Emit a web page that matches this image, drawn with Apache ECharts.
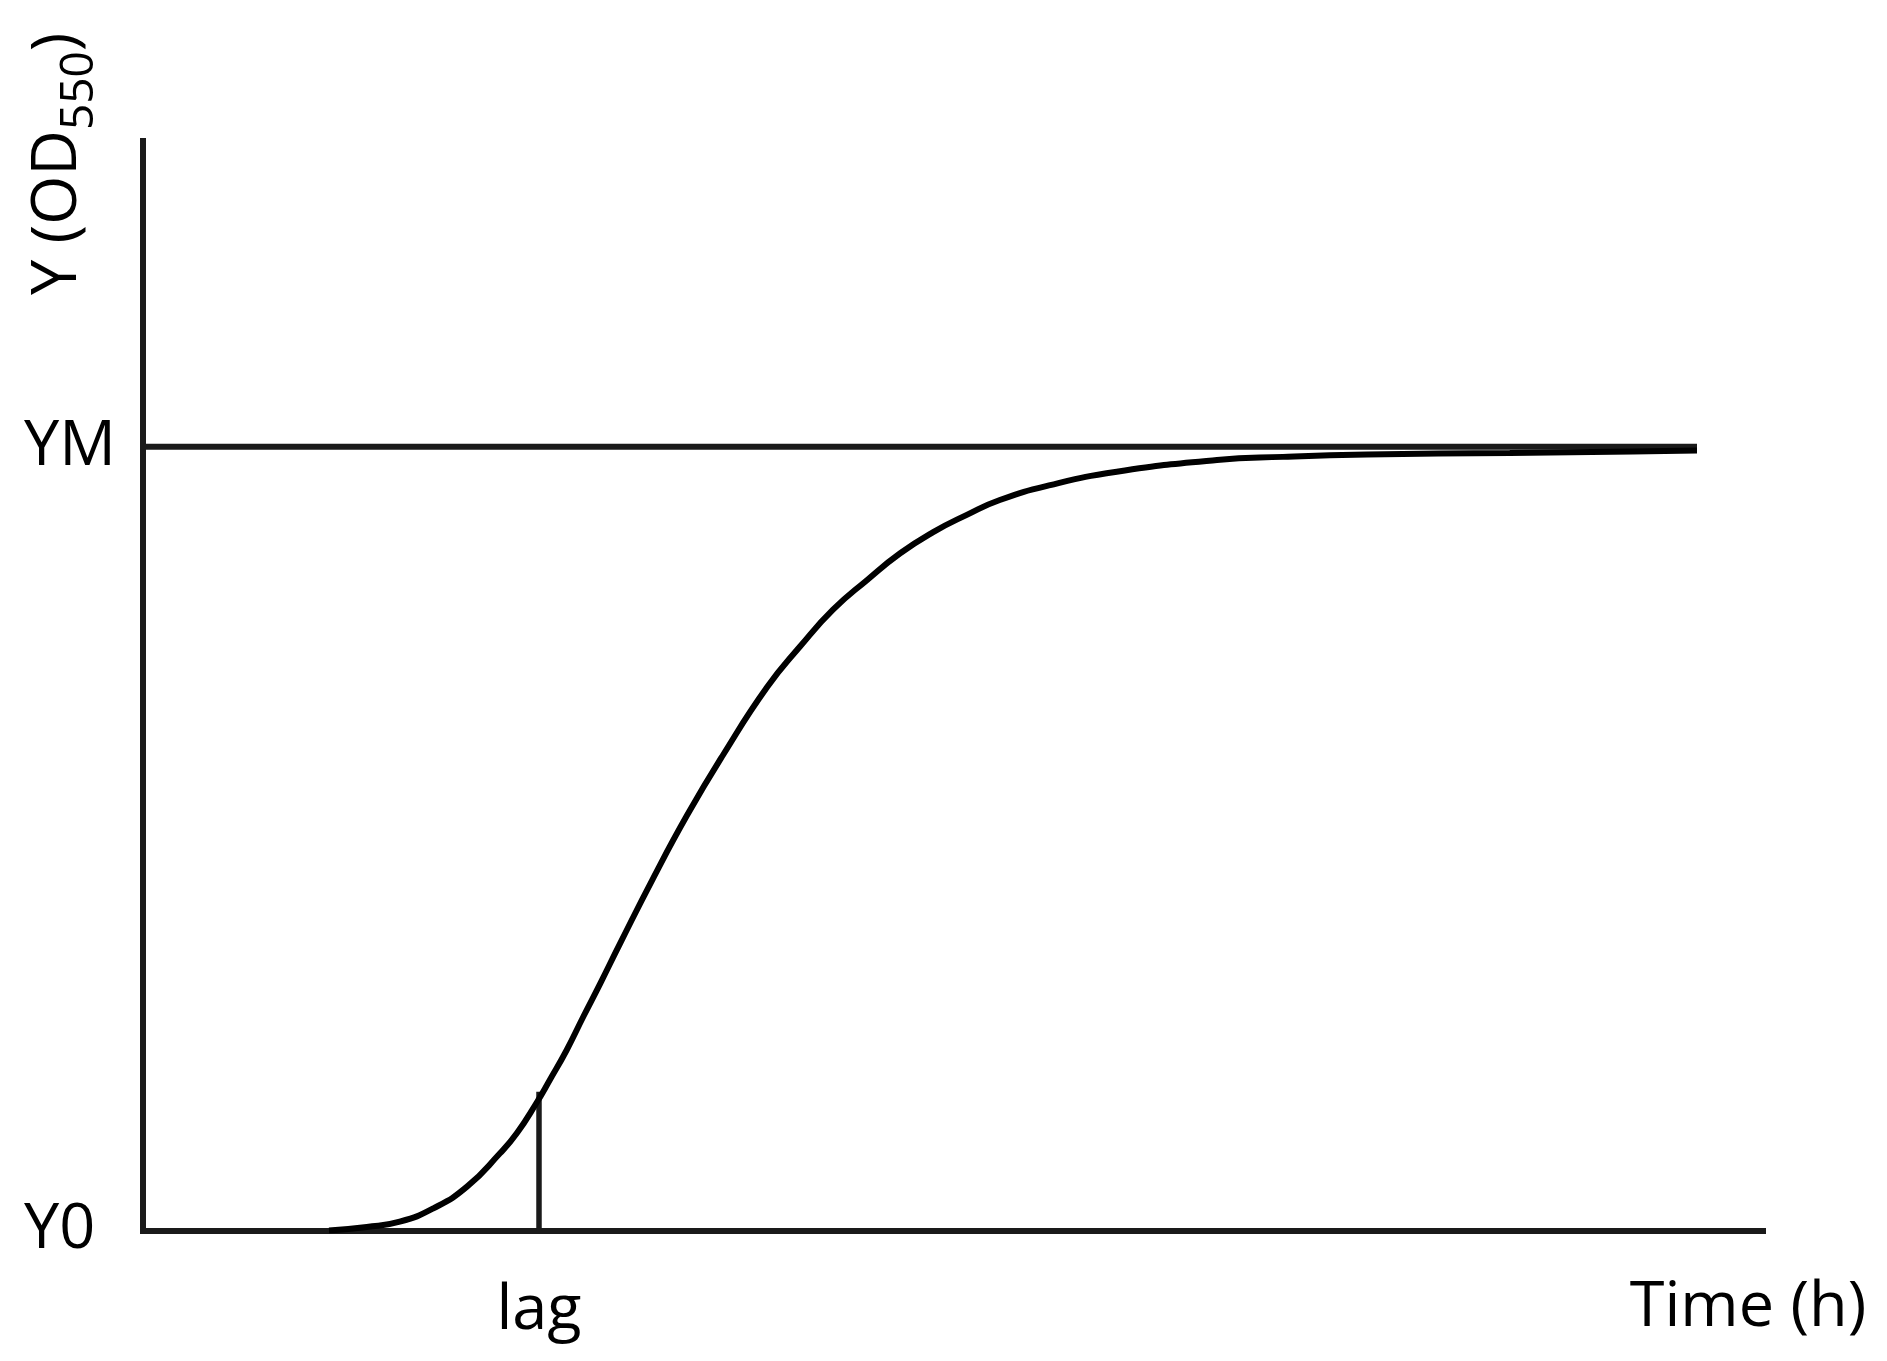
<!DOCTYPE html>
<html>
<head>
<meta charset="utf-8">
<script src="https://cdn.jsdelivr.net/npm/echarts@6/dist/echarts.min.js"></script>
<style>
html,body{margin:0;padding:0;background:#fff;}
#chart{width:1887px;height:1361px;}
</style>
</head>
<body>
<div id="chart"></div>
<script>
// Growth curve (time in arbitrary hours, OD relative: Y0 = 0, YM = 1)
const timeH = [3.1, 3.73, 4.28, 4.84, 5.40, 5.95, 6.23, 6.56, 6.78, 7.06, 7.34, 7.62, 7.95, 8.50, 9.07, 9.67, 10.40, 10.95, 11.50, 12.07, 12.62, 13.17, 13.73, 14.28, 15.12, 16.23, 17.90, 19.00, 20.40, 22.78, 24.83, 25.9];
const odValues = [0, 0.0045, 0.0112, 0.0283, 0.0559, 0.0985, 0.124, 0.163, 0.192, 0.230, 0.273, 0.315, 0.366, 0.449, 0.530, 0.607, 0.693, 0.745, 0.792, 0.830, 0.864, 0.891, 0.913, 0.932, 0.951, 0.968, 0.983, 0.987, 0.990, 0.992, 0.994, 0.995];

// Asymptote line YM
const ymLineX = [0, 25.9];
const ymLineY = [1, 1];

// Lag marker
const lagTime = 6.6;
const lagLineY = [0, 0.177];

// Tick labels
const yTickValues = [0, 1];
const yTickLabels = ['Y0', 'YM'];
const xTickValues = [lagTime];
const xTickLabels = ['lag'];

const FONT = 'Open Sans';
const INK = '#1a1a1a';

const chart = echarts.init(document.getElementById('chart'), null, {renderer: 'canvas'});

const option = {
  animation: false,
  backgroundColor: '#ffffff',
  grid: {left: 143, right: 124, top: 141, bottom: 130.5, containLabel: false, outerBoundsMode: 'none'},
  xAxis: {
    type: 'value',
    min: 0,
    max: 27,
    name: 'Time (h)',
    nameLocation: 'end',
    nameGap: -15,
    nameTextStyle: {fontFamily: FONT, fontSize: 63, color: '#000', align: 'center', verticalAlign: 'top', lineHeight: 156},
    axisLine: {show: true, lineStyle: {color: INK, width: 6, cap: 'square'}},
    axisTick: {show: false},
    splitLine: {show: false},
    axisLabel: {
      show: true,
      customValues: xTickValues,
      formatter: function (v) { const i = xTickValues.indexOf(v); return i >= 0 ? xTickLabels[i] : ''; },
      fontFamily: FONT, fontSize: 63, color: '#000',
      margin: 81, verticalAlign: 'middle', align: 'center'
    }
  },
  yAxis: {
    type: 'value',
    min: 0,
    max: 1.39,
    name: '{a|Y (OD}{s|550}{a|)}',
    nameLocation: 'end',
    nameGap: -154,
    nameRotate: 90,
    nameTextStyle: {
      fontFamily: FONT, fontSize: 63, color: '#000',
      align: 'left', verticalAlign: 'bottom', padding: [0, 0, 45, 0],
      rich: {
        a: {fontFamily: FONT, fontSize: 63, lineHeight: 80, color: '#000'},
        s: {fontFamily: FONT, fontSize: 46, lineHeight: 46, color: '#000', padding: [44, 0, 0, 0]}
      }
    },
    axisLine: {show: true, lineStyle: {color: INK, width: 6, cap: 'square'}},
    axisTick: {show: false},
    splitLine: {show: false},
    axisLabel: {
      show: true,
      customValues: yTickValues,
      formatter: function (v) { const i = yTickValues.indexOf(v); return i >= 0 ? yTickLabels[i] : ''; },
      fontFamily: FONT, fontSize: 63, color: '#000',
      margin: 119, align: 'left', verticalAlign: 'middle'
    }
  },
  series: [
    {
      name: 'YM',
      type: 'line',
      data: ymLineX.map((x, i) => [x, ymLineY[i]]),
      symbol: 'none',
      lineStyle: {color: INK, width: 6},
      silent: true,
      z: 2
    },
    {
      name: 'lag',
      type: 'line',
      data: lagLineY.map(y => [lagTime, y]),
      symbol: 'none',
      lineStyle: {color: INK, width: 5.5},
      silent: true,
      z: 2
    },
    {
      name: 'growth',
      type: 'line',
      data: timeH.map((t, i) => [t, odValues[i]]),
      symbol: 'none',
      smooth: 0.5,
      lineStyle: {color: '#000', width: 6},
      silent: true,
      z: 3
    }
  ]
};

chart.setOption(option);
</script>
</body>
</html>
